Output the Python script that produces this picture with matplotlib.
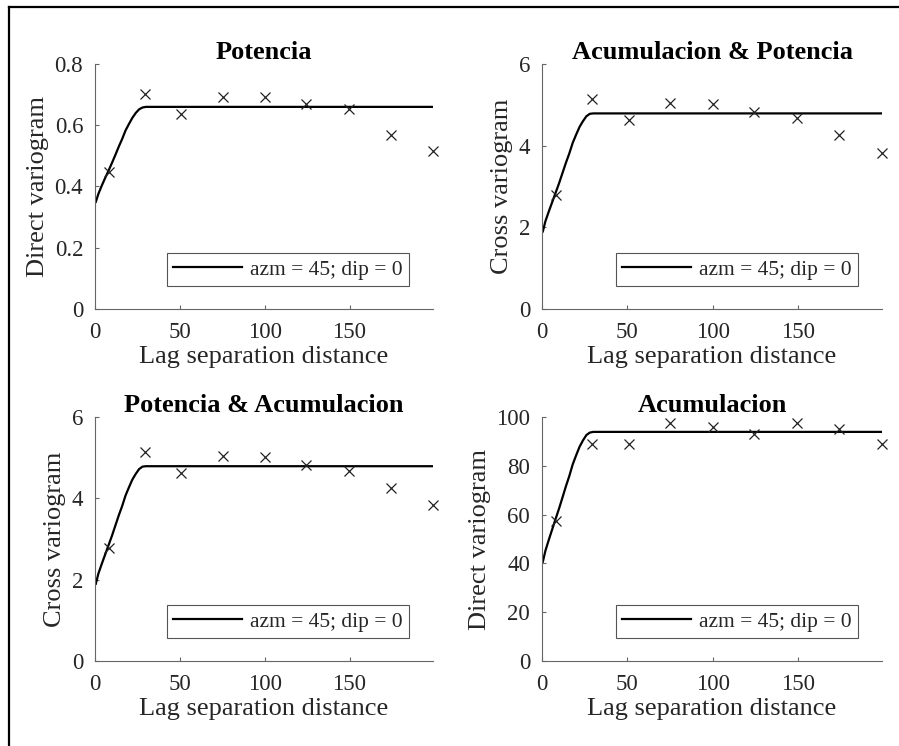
import numpy as np
import matplotlib
matplotlib.use("Agg")
import matplotlib.pyplot as plt
from matplotlib.lines import Line2D

plt.rcParams['font.family'] = ['Liberation Serif', 'DejaVu Serif']

# experimental variogram lags
lags = [8.4, 29.3, 50.8, 75.2, 100.0, 124.4, 149.4, 174.2, 199.2]

pot_exp = [0.446, 0.703, 0.638, 0.692, 0.691, 0.670, 0.653, 0.569, 0.515]
cross_exp = [2.79, 5.14, 4.63, 5.04, 5.02, 4.83, 4.68, 4.26, 3.83]
acu_exp = [57.4, 88.8, 88.8, 97.5, 95.9, 93.2, 97.7, 95.0, 89.1]

# fitted model curve
model_x = [0.5, 2, 4, 6, 8, 10, 12, 14, 16, 18, 20, 22, 24, 26, 28, 30, 199.2]
pot_model = [0.350, 0.376, 0.403, 0.428, 0.452, 0.477, 0.503, 0.530, 0.555,
             0.583, 0.604, 0.624, 0.640, 0.652, 0.658, 0.660, 0.660]
cross_model = [1.90, 2.15, 2.39, 2.62, 2.85, 3.08, 3.33, 3.58, 3.81,
               4.07, 4.27, 4.46, 4.60, 4.72, 4.78, 4.79, 4.79]
acu_model = [40.7, 45.2, 49.7, 54.0, 58.3, 62.5, 67.0, 71.6, 75.8,
             80.6, 84.3, 87.8, 90.4, 92.6, 93.6, 93.9, 93.9]

titles = ["Potencia", "Acumulacion & Potencia", "Potencia & Acumulacion", "Acumulacion"]
ylabels = ["Direct variogram", "Cross variogram", "Cross variogram", "Direct variogram"]
yticks = [[0, 0.2, 0.4, 0.6, 0.8], [0, 2, 4, 6], [0, 2, 4, 6], [0, 20, 40, 60, 80, 100]]
ylims = [(0, 0.8), (0, 6), (0, 6), (0, 100)]
xticks = [0, 50, 100, 150]
legend_label = "azm = 45; dip = 0"

exp_data = [pot_exp, cross_exp, cross_exp, acu_exp]
model_data = [pot_model, cross_model, cross_model, acu_model]

W, H = 899, 746
fig = plt.figure(figsize=(W / 100, H / 100), dpi=100)

# axes boxes in pixels: left, top, right, bottom
boxes = [(95, 64, 433, 309), (542, 64, 882, 309),
         (95, 417, 433, 661), (542, 417, 882, 661)]

tick_col = '#262626'
spine_col = '#666666'

for i, (l, t, r, b) in enumerate(boxes):
    ax = fig.add_axes([l / W, 1 - b / H, (r - l) / W, (b - t) / H])
    ax.plot(model_x, model_data[i], color='black', lw=1.6, label=legend_label)
    ax.plot(lags, exp_data[i], linestyle='none', marker='x', ms=7.5, mew=0.9,
            color='#222222', clip_on=False)
    ax.set_xlim(0, 199.2)
    ax.set_ylim(*ylims[i])
    ax.set_xticks(xticks)
    ax.set_yticks(yticks[i])
    ax.set_yticklabels([f"{v:g}" for v in yticks[i]])
    for s in ['top', 'right']:
        ax.spines[s].set_visible(False)
    for s in ['left', 'bottom']:
        ax.spines[s].set_color(spine_col)
        ax.spines[s].set_linewidth(0.8)
    ax.tick_params(direction='in', length=3, width=0.8, color=spine_col,
                   labelsize=16.5, labelcolor=tick_col)
    ax.tick_params(axis='x', pad=9.5)
    ax.tick_params(axis='y', pad=8.5)
    ax.set_title(titles[i], fontsize=19, fontweight='bold', pad=2, color='black')
    ax.set_xlabel("Lag separation distance", fontsize=19, color=tick_col, labelpad=2)
    ax.set_ylabel(ylabels[i], fontsize=19, color=tick_col, labelpad=4)
    leg = ax.legend(loc='lower right', bbox_to_anchor=(0.929, 0.094),
                    borderaxespad=0, fontsize=15.5, handlelength=3.2,
                    handletextpad=0.35, borderpad=0.3, fancybox=False,
                    framealpha=1, edgecolor='#555555')
    leg.get_frame().set_linewidth(0.8)
    for txt in leg.get_texts():
        txt.set_color(tick_col)

# outer frame, only top and left edges visible in the picture
fig.add_artist(Line2D([9 / W, 1.0], [1 - 7 / H, 1 - 7 / H], color='black',
                      lw=1.6, transform=fig.transFigure))
fig.add_artist(Line2D([9 / W, 9 / W], [0.0, 1 - 7 / H], color='black',
                      lw=1.6, transform=fig.transFigure))

fig.savefig("out.png", dpi=100)
